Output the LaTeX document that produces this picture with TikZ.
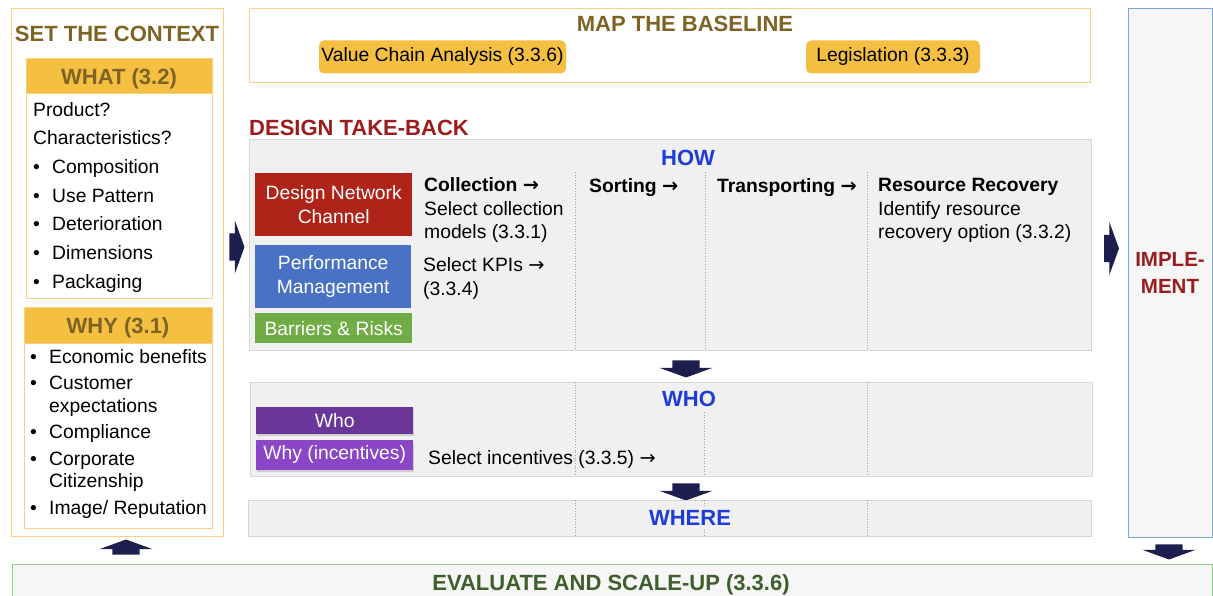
\documentclass[tikz,border=0pt]{standalone}
\usepackage{fontspec}
\setmainfont{Liberation Sans}
\newfontfamily\arrowfont{DejaVu Sans}
\usepackage{xcolor}
\usetikzlibrary{positioning,shapes.arrows,shadows}
\definecolor{ctxgold}{RGB}{125,100,36}
\definecolor{ctxline}{RGB}{247,211,125}
\definecolor{hdgold}{RGB}{245,191,66}
\definecolor{dtbred}{RGB}{155,28,28}
\definecolor{howblue}{RGB}{30,60,215}
\definecolor{dncred}{RGB}{176,35,25}
\definecolor{pmblue}{RGB}{74,114,196}
\definecolor{brgreen}{RGB}{112,173,71}
\definecolor{whopurple}{RGB}{106,54,154}
\definecolor{whypurple}{RGB}{139,70,200}
\definecolor{navy}{RGB}{28,30,78}
\definecolor{panelgray}{RGB}{240,240,240}
\definecolor{panelline}{RGB}{214,214,214}
\definecolor{impline}{RGB}{126,166,218}
\definecolor{evalline}{RGB}{140,208,140}
\definecolor{evalgreen}{RGB}{62,94,44}
\definecolor{lightfill}{RGB}{246,246,246}
\newcommand{\bodyfont}{\fontsize{19.3}{23.5}\selectfont}
\newcommand{\headfont}{\fontsize{22}{26}\selectfont\bfseries}
\newcommand{\bul}{\makebox[19pt][l]{\textbullet}}
\newcommand{\ra}{{\arrowfont →}}

\begin{document}
\begin{tikzpicture}[x=1pt, y=-1pt]
    \tikzstyle{box}=[draw, inner sep=0pt, anchor=north west]
    \tikzstyle{head}=[font=\headfont, anchor=base, inner sep=0pt]
    \tikzstyle{body}=[font=\bodyfont, align=left, anchor=north west, inner sep=0pt]
    \tikzstyle{tag}=[font=\bodyfont, text=white, align=center, inner sep=0pt, anchor=north west]
    \tikzstyle{pill}=[font=\bodyfont, fill=hdgold, rounded corners=5pt, inner sep=0pt, minimum height=33pt]
    \tikzstyle{divider}=[gray!75, dotted, line width=0.7pt]
    \tikzstyle{barrow}=[single arrow, fill=navy, inner xsep=0pt, inner ysep=13.5pt, single arrow head extend=13pt, single arrow tip angle=140, minimum height=16pt]
    \useasboundingbox (0,0) rectangle (1213,596);
    % set the context
    \node[box, draw=ctxline, line width=1.2pt, minimum width=212pt, minimum height=528pt] (ctx) at (11,8) {};
    \node[head, text=ctxgold] (ctxtitle) at (117,41.7) {SET THE CONTEXT};
    \node[box, draw=ctxline, fill=white, minimum width=186pt, minimum height=240pt] (what) at (26,58) {};
    \node[box, draw=ctxline, fill=hdgold, minimum width=186pt, minimum height=35pt] (whathead) at (26,58) {};
    \node[head, text=ctxgold] (whattitle) at (119,85) {WHAT (3.2)};
    \node[body, font=\fontsize{19.3}{28.7}\selectfont] (whatlist) at (33,102) {Product?\\Characteristics?\\\bul Composition\\\bul Use Pattern\\\bul Deterioration\\\bul Dimensions\\\bul Packaging};
    \node[box, draw=ctxline, fill=white, minimum width=188pt, minimum height=221pt] (why) at (24,307) {};
    \node[box, draw=ctxline, fill=hdgold, minimum width=188pt, minimum height=36pt] (whyhead) at (24,307) {};
    \node[head, text=ctxgold] (whytitle) at (118,333) {WHY (3.1)};
    \node[body, font=\fontsize{19.3}{22.5}\selectfont] (whylist) at (30,349) {\bul Economic benefits\\[4pt]\bul Customer\\\hspace*{19pt}expectations\\[4pt]\bul Compliance\\[4pt]\bul Corporate\\\hspace*{19pt}Citizenship\\[4pt]\bul Image/ Reputation};
    % evaluate
    \node[box, draw=evalline, fill=lightfill, line width=1pt, minimum width=1200pt, minimum height=45pt] (eval) at (12,563.5) {};
    \node[head, text=evalgreen] (evaltitle) at (611,590) {EVALUATE AND SCALE-UP (3.3.6)};
    \node[barrow, rotate=90, minimum height=15pt] (up) at (126,549.5) {};
    % map the baseline
    \node[box, draw=ctxline, line width=1.2pt, minimum width=841pt, minimum height=74pt] (base) at (249,8) {};
    \node[head, text=ctxgold] (basetitle) at (685,31.7) {MAP THE BASELINE};
    \node[pill, minimum width=247pt] (vca) at (442.5,57) {Value Chain Analysis (3.3.6)};
    \node[pill, minimum width=174pt] (legis) at (893,57) {Legislation (3.3.3)};
    % design take-back: how
    \node[head, text=dtbred, anchor=base west] (dtbtitle) at (249,136) {DESIGN TAKE-BACK};
    \node[box, draw=panelline, fill=panelgray, line width=1pt, minimum width=842pt, minimum height=211pt] (how) at (248.5,139) {};
    \foreach \xx in {575,705,867} \draw[divider] (\xx,172) -- (\xx,350);
    \node[head, text=howblue] (howtitle) at (688,166) {HOW};
    \node[tag, fill=dncred, minimum width=157pt, minimum height=63.5pt] (dnc) at (255,172.5) {Design Network\\Channel};
    \node[tag, fill=pmblue, minimum width=156pt, minimum height=63pt] (pm) at (255,245) {Performance\\Management};
    \node[tag, fill=brgreen, minimum width=157pt, minimum height=30pt] (br) at (255,313) {Barriers \& Risks};
    \node[body] (collect) at (424,177.7) {\textbf{Collection \ra}\\Select collection\\models (3.3.1)};
    \node[body] (kpi) at (423,257.7) {Select KPIs \ra\\(3.3.4)};
    \node[body] (sort) at (589,178.5) {\textbf{Sorting \ra}};
    \node[body] (transp) at (717,178.5) {\textbf{Transporting \ra}};
    \node[body] (recov) at (878,178.5) {\textbf{Resource Recovery}\\Identify resource\\recovery option (3.3.2)};
    \node[barrow, rotate=-90, minimum height=17pt] (down1) at (686,366.5) {};
    % who
    \node[box, draw=panelline, fill=panelgray, line width=1pt, minimum width=842pt, minimum height=94pt] (who) at (250,382) {};
    \foreach \xx in {575,867} \draw[divider] (\xx,382) -- (\xx,476);
    \draw[divider] (704,412) -- (704,476);
    \node[head, text=howblue] (whotitle) at (689,406) {WHO};
    \node[tag, fill=whopurple, minimum width=157pt, minimum height=27pt, drop shadow={shadow xshift=1pt, shadow yshift=-2pt, opacity=0.3}] (whotag) at (256,407) {Who};
    \node[tag, fill=whypurple, minimum width=157pt, minimum height=29.5pt, drop shadow={shadow xshift=1pt, shadow yshift=-2pt, opacity=0.3}] (whytag) at (256,440) {Why (incentives)};
    \node[body] (incent) at (428,450) {Select incentives (3.3.5) \ra};
    \node[barrow, rotate=-90, minimum height=17pt] (down2) at (686,489.5) {};
    % where
    \node[box, draw=panelline, fill=panelgray, line width=1pt, minimum width=843pt, minimum height=36pt] (where) at (248,500) {};
    \foreach \xx in {575,704,867} \draw[divider] (\xx,500) -- (\xx,536);
    \node[head, text=howblue, fill=panelgray, inner sep=2.5pt] (wheretitle) at (690,525.7) {WHERE};
    % implement
    \node[box, draw=impline, fill=lightfill, line width=1pt, minimum width=84pt, minimum height=528pt] (impl) at (1128,8.5) {};
    \node[font=\fontsize{20.5}{26.6}\selectfont\bfseries, text=dtbred, align=center, inner sep=0pt] (impltitle) at (1170,272.7) {IMPLE-\\MENT};
    \node[barrow, minimum height=15pt] (right1) at (234.5,247) {};
    \node[barrow, minimum height=15pt] (right2) at (1109,248.5) {};
    \node[barrow, rotate=-90, minimum height=15pt] (down3) at (1169,549.5) {};
\end{tikzpicture}
\end{document}
